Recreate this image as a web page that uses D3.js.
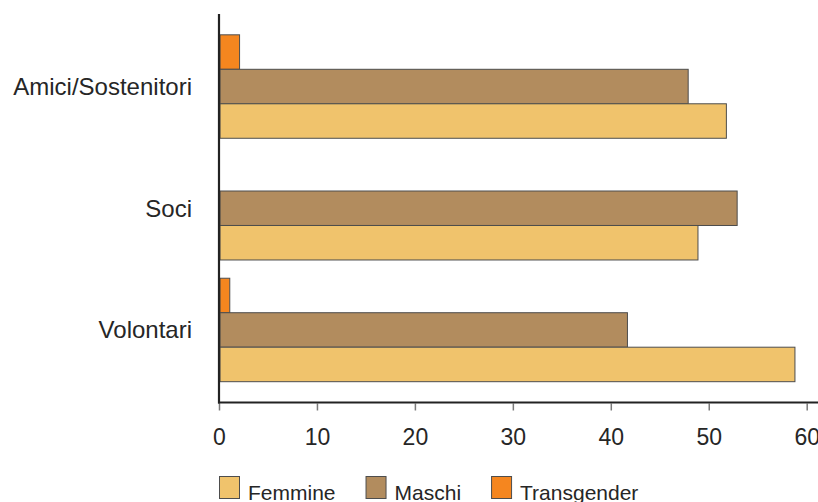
<!DOCTYPE html>
<html>
<head>
<meta charset="utf-8">
<script src="https://cdn.jsdelivr.net/npm/d3@7"></script>
<style>
  html, body { margin: 0; padding: 0; background: #fff; }
  svg { display: block; font-family: "Liberation Sans", Arial, Helvetica, sans-serif; }
</style>
</head>
<body>
<svg id="chart" width="818" height="502"></svg>
<script>
// Categories (top to bottom) and the percentage for each group
const categories = ["Amici/Sostenitori", "Soci", "Volontari"];
const femmine = [51.8, 48.9, 58.8];
const maschi = [47.9, 52.9, 41.7];
const transgender = [2.1, null, 1.1];
const tickValues = [0, 10, 20, 30, 40, 50, 60];

const seriesNames = ["Femmine", "Maschi", "Transgender"];
const seriesValues = { Femmine: femmine, Maschi: maschi, Transgender: transgender };
const colors = { Femmine: "#F0C36C", Maschi: "#B28C5E", Transgender: "#F5861F" };
// Bars are stacked inside each group from the top: Transgender, Maschi, Femmine
const barOrder = ["Transgender", "Maschi", "Femmine"];

const svg = d3.select("#chart");
const plotLeft = 219, plotRight = 806.7, plotTop = 14, plotBottom = 402.5;

const x = d3.scaleLinear().domain([0, 60]).range([plotLeft, plotRight]);
const y = d3.scaleBand().domain(categories).range([plotTop, plotBottom])
  .paddingInner(0.15).paddingOuter(0.171);
const yInner = d3.scaleBand().domain(barOrder).range([0, y.bandwidth()]).padding(0);

// Bars
const rows = [];
categories.forEach((c, i) => {
  barOrder.forEach(s => {
    const v = seriesValues[s][i];
    if (v != null) rows.push({ cat: c, series: s, value: v });
  });
});

svg.append("g").selectAll("rect").data(rows).join("rect")
  .attr("x", x(0) + 1)
  .attr("y", d => y(d.cat) + yInner(d.series))
  .attr("width", d => x(d.value) - x(0) - 1)
  .attr("height", yInner.bandwidth())
  .attr("fill", d => colors[d.series])
  .attr("stroke", "#4d4d4d")
  .attr("stroke-width", 1);

// Bottom axis: ticks and labels
const xAxis = d3.axisBottom(x).tickValues(tickValues).tickSize(7).tickPadding(18).tickSizeOuter(0);
const gx = svg.append("g").attr("transform", `translate(0,${plotBottom + 1})`).call(xAxis);
gx.select(".domain").remove();
gx.selectAll(".tick line").attr("stroke", "#7a7a7a").attr("stroke-width", 1.5);
gx.selectAll(".tick text").attr("fill", "#262626").attr("font-size", 23)
  .style("font-family", "'Liberation Sans', Arial, sans-serif");

// Frame lines
svg.append("line").attr("x1", plotLeft).attr("x2", plotLeft).attr("y1", plotTop).attr("y2", plotBottom + 1)
  .attr("stroke", "#222").attr("stroke-width", 2.2);
svg.append("line").attr("x1", plotLeft - 1).attr("x2", 818).attr("y1", plotBottom).attr("y2", plotBottom)
  .attr("stroke", "#222").attr("stroke-width", 2.2);

// Category labels
svg.append("g").selectAll("text").data(categories).join("text")
  .attr("x", 192)
  .attr("y", d => y(d) + y.bandwidth() / 2)
  .attr("dy", "0.35em")
  .attr("text-anchor", "end")
  .attr("font-size", 24)
  .attr("fill", "#262626")
  .text(d => d);

// Legend
const legend = svg.append("g").attr("transform", "translate(219,476)");
let lx = 0;
seriesNames.forEach(s => {
  const item = legend.append("g").attr("transform", `translate(${lx},0)`);
  item.append("rect").attr("x", 0.5).attr("y", 0.5).attr("width", 20).attr("height", 22)
    .attr("fill", colors[s]).attr("stroke", "#4d4d4d").attr("stroke-width", 1);
  const t = item.append("text").attr("x", 29).attr("y", 24)
    .attr("font-size", 21).attr("fill", "#262626").text(s);
  lx += 29 + t.node().getComputedTextLength() + 30;
});
</script>
</body>
</html>
